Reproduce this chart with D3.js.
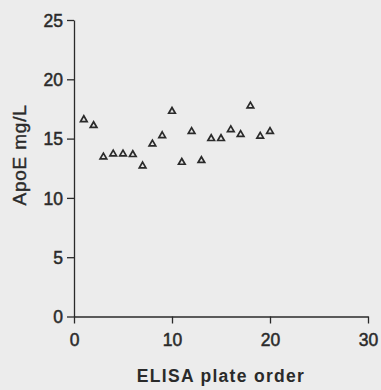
<!DOCTYPE html>
<html>
<head>
<meta charset="utf-8">
<script src="https://cdn.jsdelivr.net/npm/d3@7"></script>
<style>
  body { margin: 0; background: #ececec; }
  svg { display: block; }
</style>
</head>
<body>
<div id="chart"></div>
<script>
// plate order vs ApoE reading
var plateOrder = [1, 2, 3, 4, 5, 6, 7, 8, 9, 10, 11, 12, 13, 14, 15, 16, 17, 18, 19, 20]
var apoE = [16.6, 16.1, 13.45, 13.7, 13.7, 13.65, 12.7, 14.55, 15.25, 17.3, 13.0, 15.6, 13.15, 15.0, 15.0, 15.75, 15.35, 17.75, 15.2, 15.6]
var xTicks = [0, 10, 20, 30]
var yTicks = [0, 5, 10, 15, 20, 25]

var width = 381
var height = 390

var svg = d3.select('#chart')
  .append('svg')
  .attr('width', width)
  .attr('height', height)

svg.append('rect')
  .attr('width', width)
  .attr('height', height)
  .attr('fill', '#ececec')

var x = d3.scaleLinear().domain([0, 30]).range([74, 368])
var y = d3.scaleLinear().domain([0, 25]).range([316.5, 20])

var font = 'Liberation Sans, Arial, sans-serif'
var ink = '#2a2a2a'

var yAxis = svg.append('g')
  .attr('transform', 'translate(74,0)')
  .call(d3.axisLeft(y).tickValues(yTicks).tickSize(7).tickPadding(4).tickSizeOuter(0))

var xAxis = svg.append('g')
  .attr('transform', 'translate(0,316.5)')
  .call(d3.axisBottom(x).tickValues(xTicks).tickSize(7).tickPadding(10).tickSizeOuter(0))

;[xAxis, yAxis].forEach(function (g) {
  g.selectAll('path, line').attr('stroke', ink).attr('stroke-width', 1.3)
  g.selectAll('text')
    .attr('fill', ink)
    .attr('stroke', ink)
    .attr('stroke-width', 0.5)
    .style('font-family', font)
    .style('font-size', '17.5px')
})
yAxis.selectAll('text').attr('dy', '0.36em')

// axis titles
svg.append('text')
  .attr('x', 221)
  .attr('y', 382)
  .attr('text-anchor', 'middle')
  .attr('fill', ink)
  .style('font-family', font)
  .style('font-size', '17.5px')
  .style('font-weight', 'bold')
  .style('letter-spacing', '1.3px')
  .text('ELISA plate order')

svg.append('text')
  .attr('transform', 'translate(26,155) rotate(-90)')
  .attr('text-anchor', 'middle')
  .attr('fill', ink)
  .attr('stroke', ink)
  .attr('stroke-width', 0.4)
  .style('font-family', font)
  .style('font-size', '19px')
  .style('letter-spacing', '0.8px')
  .text('ApoE mg/L')

// triangle markers
var tri = d3.symbol().type(d3.symbolTriangle).size(19)

svg.selectAll('.pt')
  .data(plateOrder)
  .enter()
  .append('path')
  .attr('class', 'pt')
  .attr('d', tri)
  .attr('transform', function (d, i) {
    return 'translate(' + x(d) + ',' + y(apoE[i]) + ')'
  })
  .attr('fill', '#e4e4e4')
  .attr('stroke', '#2a2a2a')
  .attr('stroke-width', 1.7)
</script>
</body>
</html>
